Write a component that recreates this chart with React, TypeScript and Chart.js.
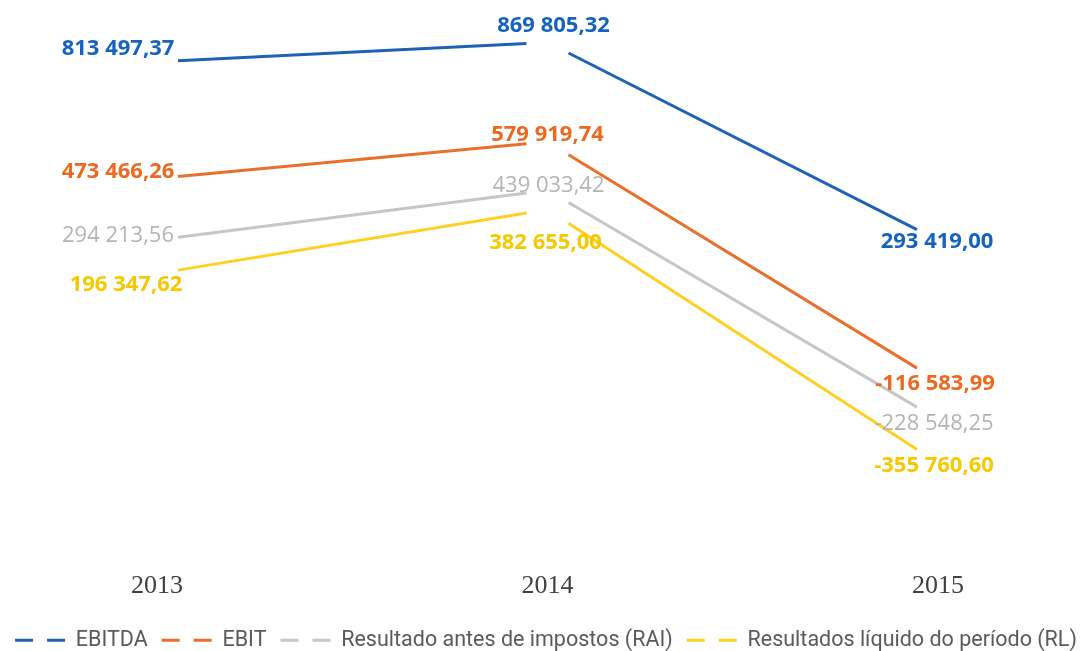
import React, { useEffect, useRef } from "react";
import { Chart, registerables } from "chart.js";

Chart.register(...registerables);

const years = ["2013", "2014", "2015"];
const seriesNames = [
  "EBITDA",
  "EBIT",
  "Resultado antes de impostos (RAI)",
  "Resultados líquido do período (RL)",
];
const ebitda = [813497.37, 869805.32, 293419.0];
const ebit = [473466.26, 579919.74, -116583.99];
const rai = [294213.56, 439033.42, -228548.25];
const rl = [196347.62, 382655.0, -355760.6];

const lineColors = ["#1f62b5", "#e8702c", "#c6c6c6", "#fdd022"];
const labelColors = ["#1563bf", "#e96a20", "#b4b4b4", "#f6c800"];
const labelBold = [true, true, false, true];
// label offsets (dx, dy) relative to each point, per series
const labelOffsets = [
  [[-39, -13], [6, -17], [-1, 1]],
  [[-39, -7], [0, -7], [-3, 3]],
  [[-39, -4], [1, -5], [-4, 4]],
  [[-31, 11], [-2, 33], [-4, 3]],
];

function fmt(v: number): string {
  const neg = v < 0;
  const [i, d] = Math.abs(v).toFixed(2).split(".");
  const g = i.replace(/\B(?=(\d{3})+(?!\d))/g, " ");
  return (neg ? "-" : "") + g + "," + d;
}

const gapLines = {
  id: "gapLines",
  afterDatasetsDraw(chart: any) {
    const ctx = chart.ctx;
    const gap = 21;
    chart.data.datasets.forEach((ds: any, di: number) => {
      const meta = chart.getDatasetMeta(di);
      const pts = meta.data;
      ctx.save();
      ctx.strokeStyle = lineColors[di];
      ctx.lineWidth = 3;
      ctx.lineCap = "butt";
      for (let i = 0; i < pts.length - 1; i++) {
        const a = pts[i], b = pts[i + 1];
        const slope = (b.y - a.y) / (b.x - a.x);
        ctx.beginPath();
        ctx.moveTo(a.x + gap, a.y + slope * gap);
        ctx.lineTo(b.x - gap, b.y - slope * gap);
        ctx.stroke();
      }
      ctx.restore();
    });
    chart.data.datasets.forEach((ds: any, di: number) => {
      const meta = chart.getDatasetMeta(di);
      ctx.save();
      ctx.font = (labelBold[di] ? "bold " : "") + "22px 'Open Sans'";
      ctx.fillStyle = labelColors[di];
      ctx.textAlign = "center";
      ctx.textBaseline = "middle";
      meta.data.forEach((p: any, i: number) => {
        const [dx, dy] = labelOffsets[di][i];
        ctx.fillText(fmt(ds.data[i]), p.x + dx, p.y + dy);
      });
      ctx.restore();
    });
  },
};

export default function App() {
  const ref = useRef<HTMLCanvasElement>(null);
  useEffect(() => {
    const all = [ebitda, ebit, rai, rl];
    const chart = new Chart(ref.current!, {
      type: "line",
      data: {
        labels: years,
        datasets: all.map((d, i) => ({
          label: seriesNames[i],
          data: d,
          borderColor: lineColors[i],
          backgroundColor: lineColors[i],
          showLine: false,
          pointRadius: 0,
        })),
      },
      options: {
        responsive: false,
        animation: false,
        layout: { padding: { left: 0, right: 0, top: 32, bottom: 0 } },
        scales: {
          x: {
            offset: false,
            grid: { display: false, drawTicks: false },
            border: { display: false },
            ticks: {
              color: "#404040",
              padding: 0,
              font: { family: "'Liberation Serif'", size: 26 },
            },
            afterFit: (s: any) => {
              s.height += 14;
            },
          },
          y: {
            position: "left",
            min: -668000,
            max: 900000,
            grid: { display: false, drawTicks: false },
            border: { display: false },
            ticks: { display: false },
            afterFit: (s: any) => {
              s.width = 157;
            },
          },
          y2: {
            position: "right",
            grid: { display: false, drawTicks: false },
            border: { display: false },
            ticks: { display: false },
            afterFit: (s: any) => {
              s.width = 154;
            },
          },
        },
        plugins: {
          tooltip: { enabled: false },
          legend: {
            position: "bottom",
            labels: {
              usePointStyle: true,
              pointStyleWidth: 50,
              padding: 14,
              color: "#5a5a5a",
              font: { family: "Roboto", size: 21.5 },
              generateLabels: (c: any) =>
                c.data.datasets.map((ds: any, i: number) => ({
                  text: ds.label,
                  fillStyle: lineColors[i],
                  strokeStyle: lineColors[i],
                  lineWidth: 3,
                  lineDash: [18, 14],
                  pointStyle: "line",
                  fontColor: "#5a5a5a",
                  datasetIndex: i,
                  hidden: false,
                })),
            },
          },
        },
      },
      plugins: [gapLines],
    });
    return () => chart.destroy();
  }, []);
  return (
    <canvas
      ref={ref}
      width={1092}
      height={661}
      style={{ display: "block", margin: "-8px 0 0 -8px" }}
    />
  );
}
